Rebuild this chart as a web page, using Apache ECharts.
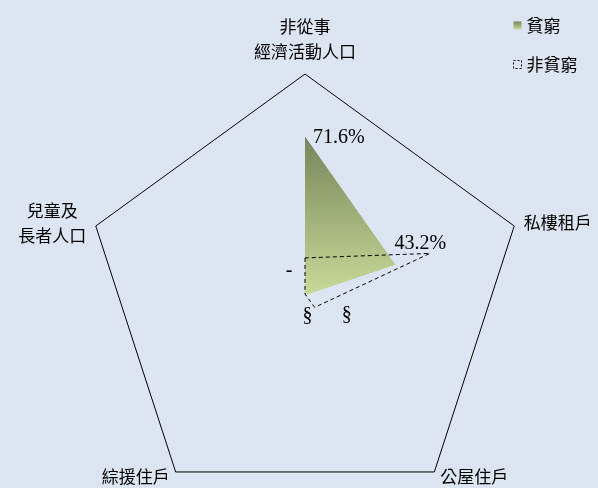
<!DOCTYPE html>
<html>
<head>
<meta charset="utf-8">
<script src="https://cdn.jsdelivr.net/npm/echarts@6/dist/echarts.min.js"></script>
<style>
html,body{margin:0;padding:0;background:#dce6f2;}
#c{width:598px;height:488px;}
</style>
</head>
<body>
<div id="c"></div>
<script>
// Indicators in counter-clockwise order starting from the top
const indicatorNames = ['非從事\n經濟活動人口', '兒童及\n長者人口', '綜援住戶', '公屋住戶', '私樓租戶'];
const indicatorMax = 100;
const seriesNames = ['貧窮', '非貧窮'];
const poorValues = [71.6, 0, 0.3, 0.6, 43.2];
const nonPoorValues = [16.4, 0, 0, 7.5, 59.7];
const pointLabels = ['71.6%', '-', '§', '§', '43.2%'];

// label placement (style only)
const labelPlacement = [
  { pos: [8, 1], align: 'left' },
  { pos: [-16, -23], align: 'center' },
  { pos: [3, 21], align: 'center' },
  { pos: [41, 20], align: 'center' },
  { pos: [-1, -21], align: 'left' }
];
const bottomNameIdx = [2, 3];

const cjk = '"Noto Sans CJK TC", "Noto Sans CJK SC", sans-serif';
const serif = '"Liberation Serif", "DejaVu Serif", serif';

const greenGrad = new echarts.graphic.LinearGradient(0, 0, 0, 1, [
  { offset: 0, color: '#76865a' },
  { offset: 1, color: '#c7da98' }
]);

const labelSeries = pointLabels.map((txt, i) => ({
  type: 'radar',
  name: 'lbl' + i,
  silent: true,
  symbol: 'circle',
  symbolSize: 0,
  itemStyle: { color: 'rgba(0,0,0,0)' },
  lineStyle: { width: 0, opacity: 0 },
  z: 5,
  label: {
    show: true,
    position: labelPlacement[i].pos,
    align: labelPlacement[i].align,
    verticalAlign: 'middle',
    color: '#000',
    fontSize: 20,
    fontFamily: serif,
    formatter: (p) => {
      const v = Array.isArray(p.value) ? null : p.value;
      return v === poorValues[i] ? txt : '';
    }
  },
  data: [{ value: poorValues.slice(), name: 'lbl' + i }]
}));

const chart = echarts.init(document.getElementById('c'), null, { renderer: 'canvas' });
chart.setOption({
  backgroundColor: '#dce6f2',
  animation: false,
  legend: {
    orient: 'vertical',
    left: 508,
    top: 12,
    itemWidth: 8,
    itemHeight: 8,
    itemGap: 22,
    icon: 'rect',
    textStyle: { color: '#000', fontSize: 17, fontFamily: cjk },
    data: [
      { name: seriesNames[0], itemStyle: { color: greenGrad } },
      { name: seriesNames[1], itemStyle: { color: 'rgba(0,0,0,0)', borderColor: '#000', borderWidth: 1, borderType: [2, 2] } }
    ]
  },
  radar: {
    center: [305, 294],
    radius: 220,
    startAngle: 90,
    splitNumber: 1,
    shape: 'polygon',
    nameGap: 10,
    axisName: {
      color: '#000',
      fontSize: 17,
      lineHeight: 25,
      fontFamily: cjk,
      formatter: (name) => {
        const key = bottomNameIdx.indexOf(indicatorNames.indexOf(name)) >= 0 ? 'b' : 'c';
        return name.split('\n').map(s => '{' + key + '|' + s + '}').join('\n');
      },
      rich: {
        c: { align: 'center', fontSize: 17, lineHeight: 25, fontFamily: cjk, color: '#000' },
        b: { align: 'center', fontSize: 17, lineHeight: 25, fontFamily: cjk, color: '#000', padding: [0, 0, 8, 0] }
      }
    },
    axisLine: { show: false },
    axisTick: { show: false },
    axisLabel: { show: false },
    splitArea: { show: false },
    splitLine: { lineStyle: { color: '#000', width: 1 } },
    indicator: indicatorNames.map(n => ({ name: n, max: indicatorMax, min: 0 }))
  },
  series: [
    {
      type: 'radar',
      name: seriesNames[0],
      symbol: 'none',
      lineStyle: { width: 0, opacity: 0 },
      areaStyle: { color: greenGrad, opacity: 1 },
      itemStyle: { color: greenGrad },
      z: 2,
      data: [{ value: poorValues, name: seriesNames[0] }]
    },
    {
      type: 'radar',
      name: seriesNames[1],
      symbol: 'none',
      lineStyle: { color: '#000', width: 1, type: [4, 3] },
      itemStyle: { color: '#000' },
      z: 3,
      data: [{ value: nonPoorValues, name: seriesNames[1] }]
    }
  ].concat(labelSeries)
});
</script>
</body>
</html>
